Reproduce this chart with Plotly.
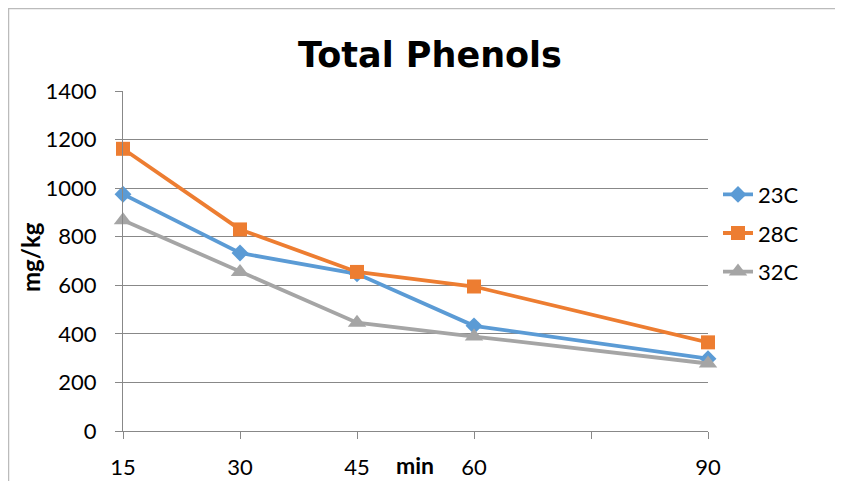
import plotly.graph_objects as go

minutes = [15, 30, 45, 60, 90]
s23 = [975, 733, 647, 433, 298]
s28 = [1162, 830, 655, 595, 365]
s32 = [868, 655, 446, 389, 278]
series_names = ["23C", "28C", "32C"]
x_tickvals = [15, 30, 45, 60, 75, 90]
x_ticktext = ["15", "30", "45", "60", "", "90"]
y_tickvals = [0, 200, 400, 600, 800, 1000, 1200, 1400]

colors = ["#5B9BD5", "#ED7D31", "#A5A5A5"]
symbols = ["diamond", "square", "triangle-up"]
msizes = [13, 14, 16]
FONT = "Lato"

# page body has an 8px margin, so the figure is drawn offset by (8, 8)
W, H = 835, 473
L, T, PW, PH = 115, 83, 585, 340

fig = go.Figure()
for name, vals, c, s, ms in zip(series_names, [s23, s28, s32], colors, symbols, msizes):
    fig.add_trace(go.Scatter(
        x=minutes, y=vals, name=name, mode="lines+markers",
        line=dict(color=c, width=3.8),
        marker=dict(symbol=s, size=ms, color=c),
        cliponaxis=False, legendgroup=name,
    ))

fig.update_layout(
    width=W, height=H,
    margin=dict(l=L, r=W - L - PW, t=T, b=H - T - PH),
    paper_bgcolor="white", plot_bgcolor="white",
    font=dict(family=FONT, size=22, color="black"),
    title=dict(text="<b>Total Phenols</b>", x=422 / W, xanchor="center",
               y=1 - 47 / H, yanchor="middle",
               font=dict(size=35, family="DejaVu Sans")),
    showlegend=True,
    legend=dict(x=(718 - 8 - L) / PW, xanchor="left", y=0.582, yanchor="middle",
                font=dict(size=22), tracegroupgap=7, bgcolor="rgba(0,0,0,0)"),
    xaxis=dict(range=[15, 90], tickvals=x_tickvals, ticktext=x_ticktext,
               showgrid=False, showline=True, linecolor="#888888", linewidth=1,
               ticks="outside", ticklen=7, tickcolor="#888888",
               ticklabelstandoff=10, zeroline=False, automargin=False),
    yaxis=dict(range=[0, 1400], tickvals=y_tickvals, showgrid=True,
               gridcolor="#888888", gridwidth=1, showline=True,
               linecolor="#888888", linewidth=1, ticks="outside", ticklen=7,
               tickcolor="#888888", zeroline=False, ticklabelstandoff=14,
               automargin=False),
    annotations=[
        dict(text="<b>min</b>", x=52.4, xref="x", y=-0.1, yref="paper",
             showarrow=False, font=dict(size=23), xanchor="center",
             yanchor="middle"),
        dict(text="<b>mg/kg</b>", x=(22 - L) / PW, xref="paper",
             y=(423 - 249) / PH, yref="paper", textangle=-90,
             showarrow=False, font=dict(size=24), xanchor="center",
             yanchor="middle"),
    ],
    shapes=[dict(type="rect", xref="paper", yref="paper",
                 x0=(0.5 - L) / PW, x1=(830 - L) / PW,
                 y0=(423 - 490) / PH, y1=(423 - 0.5) / PH,
                 line=dict(color="#BBBBBB", width=1.5), layer="below")],
)

fig.write_html("out.html")
